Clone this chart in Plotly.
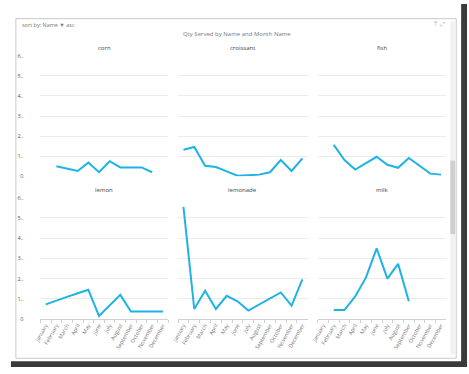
import plotly.graph_objects as go

W, H = 469, 374

months = ["January", "February", "March", "April", "May", "June", "July",
          "August", "September", "October", "November", "December"]
names = ["corn", "croissant", "fish", "lemon", "lemonade", "milk"]

corn = [None, 0.50, 0.38, 0.26, 0.68, 0.20, 0.75, 0.44, 0.44, 0.44, 0.20, None]
croissant = [1.32, 1.46, 0.52, 0.46, 0.24, 0.03, 0.05, 0.08, 0.20, 0.81, 0.26, 0.89]
fish = [None, 1.56, 0.81, 0.33, 0.65, 0.97, 0.57, 0.42, 0.91, 0.50, 0.13, 0.08]
lemon = [0.73, 0.90, 1.10, 1.28, 1.45, 0.15, 0.68, 1.20, 0.37, 0.37, 0.37, 0.37]
lemonade = [5.55, 0.50, 1.40, 0.50, 1.15, 0.88, 0.42, 0.72, 1.00, 1.32, 0.67, 1.97]
milk = [None, 0.45, 0.45, 1.12, 2.05, 3.50, 2.00, 2.73, 0.88, None, None, None]
series = [corn, croissant, fish, lemon, lemonade, milk]

y_ticks = [0, 1, 2, 3, 4, 5, 6]
y_ticktext = ["0", "1..", "2..", "3..", "4..", "5..", "6.."]

LINE = "#1fb3e4"
GRID = "#ebebeb"
FONT = "Open Sans"

def px_x(p):
    return p / W

def px_y(p):
    return 1 - p / H

col_dom = [(33, 163), (173, 305), (315, 446)]
row_dom = [(176, 53), (322, 198)]
title_y = [45, 190]

fig = go.Figure()
layout = dict(
    width=W, height=H, margin=dict(l=0, r=0, t=0, b=0),
    paper_bgcolor="white", plot_bgcolor="white", showlegend=False,
    font=dict(family=FONT, size=6, color="#666"),
)
annotations = []
for i, (nm, vals) in enumerate(zip(names, series)):
    r, c = divmod(i, 3)
    k = "" if i == 0 else str(i + 1)
    fig.add_trace(go.Scatter(x=months, y=vals, mode="lines",
                             line=dict(color=LINE, width=2),
                             connectgaps=False, hoverinfo="skip",
                             xaxis="x" + k, yaxis="y" + k))
    x0, x1 = col_dom[c]
    yb, yt = row_dom[r]
    layout["xaxis" + k] = dict(
        domain=[px_x(x0), px_x(x1)], anchor="y" + k,
        type="category", categoryorder="array", categoryarray=months,
        range=[-0.5, 11.5], showgrid=False, zeroline=False,
        showticklabels=(r == 1), tickangle=-60,
        tickfont=dict(size=5.5, color="#777", family=FONT),
        ticks="outside" if r == 1 else "", tickson="boundaries",
        ticklen=3, tickcolor="#d0d0d0",
        showline=(r == 1), linecolor="#d0d0d0", linewidth=1,
        fixedrange=True,
    )
    layout["yaxis" + k] = dict(
        domain=[px_y(yb), px_y(yt)], anchor="x" + k,
        range=[0, 6], tickvals=y_ticks, ticktext=y_ticktext,
        showticklabels=(c == 0), ticklabelstandoff=16,
        tickfont=dict(size=5.5, color="#555", family=FONT),
        showgrid=True, gridcolor=GRID, gridwidth=1,
        zeroline=False, showline=False, fixedrange=True,
    )
    annotations.append(dict(
        text=nm, xref="paper", yref="paper",
        x=px_x((x0 + x1) / 2), y=px_y(title_y[r]),
        showarrow=False, font=dict(size=6, color="#444", family=FONT),
        xanchor="center", yanchor="middle"))

annotations.append(dict(text="sort by: Name ▼ asc", xref="paper", yref="paper",
                        x=px_x(12), y=px_y(21), xanchor="left", yanchor="middle",
                        showarrow=False, font=dict(size=5.5, color="#777", family=FONT)))
annotations.append(dict(text="Qty Served by Name and Month Name", xref="paper", yref="paper",
                        x=px_x(233), y=px_y(31), xanchor="center", yanchor="middle",
                        showarrow=False, font=dict(size=6, color="#777", family=FONT)))
annotations.append(dict(text="⊤ ⤢", xref="paper", yref="paper",
                        x=px_x(447), y=px_y(20), xanchor="right", yanchor="middle",
                        showarrow=False, font=dict(size=6, color="#999", family=FONT)))
layout["annotations"] = annotations

shapes = [
    # visual frame
    dict(type="rect", xref="paper", yref="paper",
         x0=px_x(8), x1=px_x(456), y0=px_y(362), y1=px_y(15),
         line=dict(color="#c8c8c8", width=1), fillcolor="rgba(0,0,0,0)", layer="below"),
    # scrollbar track
    dict(type="rect", xref="paper", yref="paper",
         x0=px_x(450), x1=px_x(455), y0=px_y(358), y1=px_y(18),
         line=dict(width=0), fillcolor="#f1f1f1", layer="below"),
    # scrollbar thumb
    dict(type="rect", xref="paper", yref="paper",
         x0=px_x(450), x1=px_x(455), y0=px_y(235), y1=px_y(160),
         line=dict(width=0), fillcolor="#cfcfcf", layer="below"),
    # right shadow
    dict(type="rect", xref="paper", yref="paper",
         x0=px_x(461), x1=px_x(467), y0=px_y(371), y1=px_y(0),
         line=dict(width=0), fillcolor="#3a3a3a", layer="below"),
    # bottom shadow
    dict(type="rect", xref="paper", yref="paper",
         x0=px_x(3), x1=px_x(467), y0=px_y(371), y1=px_y(365),
         line=dict(width=0), fillcolor="#3a3a3a", layer="below"),
]
layout["shapes"] = shapes

fig.update_layout(**layout)
fig.write_html("out.html", config={"displayModeBar": False, "staticPlot": True},
               post_script="document.body.style.margin='0';document.body.style.overflow='hidden';")
